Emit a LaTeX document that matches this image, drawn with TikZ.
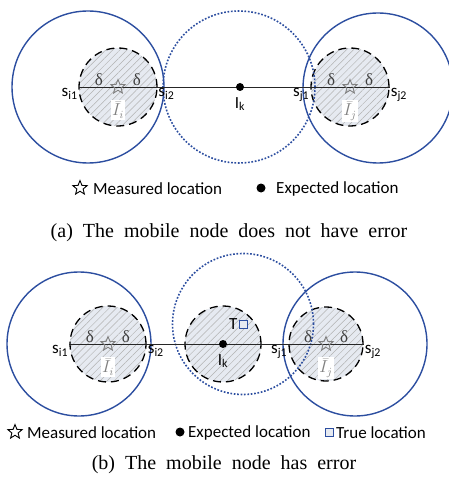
\documentclass[tikz,border=0pt]{standalone}
\usepackage{fontspec}
\setmainfont{Liberation Serif}
\setsansfont{Carlito}
\newfontfamily\capfont[WordSpace=2.0]{Liberation Serif}
\usetikzlibrary{shapes.geometric, patterns.meta, positioning}

\definecolor{rangeblue}{RGB}{44,78,160}
\definecolor{zonefill}{RGB}{230,234,241}

\begin{document}
\begin{tikzpicture}[
        x=1pt, y=-1pt,
        font=\sffamily\fontsize{17}{19}\selectfont,
        zone/.style={
            circle, inner sep=0pt,
            draw=black, line width=1.3pt, dash pattern=on 8pt off 5pt,
            preaction={fill=zonefill},
            pattern={Lines[angle=45, distance=5pt, line width=0.5pt]},
            pattern color=gray!60
        },
        rangecirc/.style={circle, inner sep=0pt, draw=rangeblue, line width=1.4pt},
        reachcirc/.style={circle, inner sep=0pt, draw=rangeblue, line width=1.6pt, dash pattern=on 1.7pt off 1.7pt},
        baseline/.style={line width=0.9pt, black!85},
        dot/.style={circle, fill=black, inner sep=0pt, minimum size=8pt},
        est/.style={star, star points=5, star point ratio=2.3, draw=gray, line width=0.9pt,
            inner sep=0pt, minimum size=15pt},
        truepos/.style={rectangle, draw=rangeblue, fill=zonefill, line width=0.8pt,
            inner sep=0pt, minimum size=8pt},
        lbl/.style={inner sep=1pt},
        dlt/.style={inner sep=0pt, font=\rmfamily\fontsize{17}{19}\selectfont, text=black!75},
        mlbl/.style={fill=white, inner sep=1.5pt, text=gray, font=\fontsize{16}{18}\selectfont},
        captxt/.style={inner sep=0pt, font=\capfont\fontsize{20}{22}\selectfont}
    ]
    \useasboundingbox (0,0) rectangle (448,481);

    % (a) no error
    \node[zone, minimum size=78pt] (zi) at (118,87) {};
    \node[zone, minimum size=78pt] (zj) at (350,87) {};
    \node[rangecirc, minimum size=152pt] (ri) at (88,87) {};
    \node[rangecirc, minimum size=150pt] (rj) at (378,88) {};
    \node[reachcirc, minimum size=152pt] (rk) at (239,87) {};
    \draw[baseline] (zi.west) -- (zj.east);
    \node[dot] (ik) at (240,87) {};
    \node[est] (ei) at (zi.center) {};
    \node[est] (ej) at (zj.center) {};

    \node[lbl, anchor=north east] (si1) at (zi.west) {s\textsubscript{i1}};
    \node[lbl, anchor=north west] (si2) at (zi.east) {s\textsubscript{i2}};
    \node[lbl, anchor=north east] (sj1) at (zj.west) {s\textsubscript{j1}};
    \node[lbl, anchor=north west] (sj2) at (zj.east) {s\textsubscript{j2}};
    \node[lbl, below=5pt of ik] (lk) {I\textsubscript{k}};
    \node[dlt, anchor=south] (di1) at ([xshift=-19pt, yshift=1pt]zi.center) {δ};
    \node[dlt, anchor=south] (di2) at ([xshift=19pt, yshift=1pt]zi.center) {δ};
    \node[dlt, anchor=south] (dj1) at ([xshift=-19pt, yshift=1pt]zj.center) {δ};
    \node[dlt, anchor=south] (dj2) at ([xshift=19pt, yshift=1pt]zj.center) {δ};
    \node[mlbl, anchor=north] (li) at ([yshift=-13pt]zi.center) {$\bar{I}_i$};
    \node[mlbl, anchor=north] (lj) at ([yshift=-13pt]zj.center) {$\bar{I}_j$};

    % legend and caption (a)
    \node[est, draw=black] (ka) at (80,188) {};
    \node[lbl, anchor=west] (ka-t) at (92,189) {Measured location};
    \node[dot, minimum size=9pt] (kb) at (261,188) {};
    \node[lbl, anchor=west] (kb-t) at (275,189) {Expected location};
    \node[captxt, anchor=base] (capa) at (229,237) {(a) The mobile node does not have error};

    % (b) with error
    \node[zone, minimum size=76pt] (zi2) at (108,344) {};
    \node[zone, minimum size=76pt] (zk2) at (223,344) {};
    \node[zone, minimum size=74pt] (zj2) at (326,344) {};
    \node[rangecirc, minimum size=144pt] (ri2) at (79,344) {};
    \node[rangecirc, minimum size=144pt] (rj2) at (355,344) {};
    \node[reachcirc, minimum size=141pt] (rt2) at (243,324) {};
    \draw[baseline] (zi2.west) -- (zj2.east);
    \node[dot] (ik2) at (zk2.center) {};
    \node[truepos] (t2) at (rt2.center) {};
    \node[est] (ei2) at (zi2.center) {};
    \node[est] (ej2) at (zj2.center) {};

    \node[lbl, anchor=north east] (si12) at (zi2.west) {s\textsubscript{i1}};
    \node[lbl, anchor=north west] (si22) at (zi2.east) {s\textsubscript{i2}};
    \node[lbl, anchor=north east] (sj12) at (zj2.west) {s\textsubscript{j1}};
    \node[lbl, anchor=north west] (sj22) at (zj2.east) {s\textsubscript{j2}};
    \node[lbl, below=5pt of ik2] (lk2) {I\textsubscript{k}};
    \node[lbl, left=0pt of t2] (tl2) {T};
    \node[dlt, anchor=south] (di12) at ([xshift=-18pt, yshift=1pt]zi2.center) {δ};
    \node[dlt, anchor=south] (di22) at ([xshift=18pt, yshift=1pt]zi2.center) {δ};
    \node[dlt, anchor=south] (dj12) at ([xshift=-18pt, yshift=1pt]zj2.center) {δ};
    \node[dlt, anchor=south] (dj22) at ([xshift=18pt, yshift=1pt]zj2.center) {δ};
    \node[mlbl, anchor=north] (li2) at ([yshift=-13pt]zi2.center) {$\bar{I}_i$};
    \node[mlbl, anchor=north] (lj2) at ([yshift=-13pt]zj2.center) {$\bar{I}_j$};

    % legend and caption (b)
    \node[est, draw=black] (kc) at (15,432) {};
    \node[lbl, anchor=west] (kc-t) at (26,433) {Measured location};
    \node[dot, minimum size=9pt] (kd) at (180,432) {};
    \node[lbl, anchor=west] (kd-t) at (187,433) {Expected location};
    \node[truepos] (ke) at (329,432) {};
    \node[lbl, anchor=west] (ke-t) at (335,433) {True location};
    \node[captxt, anchor=base] (capb) at (224,469) {(b) The mobile node has error};
\end{tikzpicture}
\end{document}
